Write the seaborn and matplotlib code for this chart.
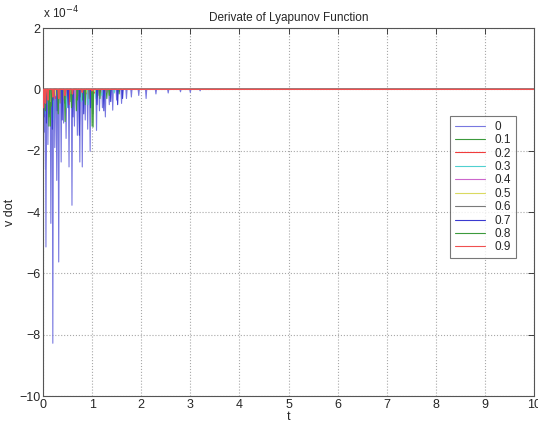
import numpy as np
import pandas as pd
import matplotlib
matplotlib.use("Agg")
import matplotlib.pyplot as plt
import seaborn as sns

# series labels (legend) and MATLAB-like colour order (as rendered, a bit faded)
labels = ["0", "0.1", "0.2", "0.3", "0.4", "0.5", "0.6", "0.7", "0.8", "0.9"]
colors = ["#7878e0", "#3c9a3c", "#f03c3c", "#50d0d0", "#cc66cc",
          "#dada60", "#7a7a7a", "#3a3ad0", "#3c9a3c", "#f05050"]

# spike times (t) and spike depths (v dot, in units of 1e-4)
t0 = [0.02, 0.05, 0.06, 0.10, 0.16, 0.20, 0.24, 0.28, 0.32, 0.37, 0.42, 0.47,
      0.53, 0.59, 0.64, 0.70, 0.75, 0.80, 0.86, 0.91, 0.96, 1.02, 1.09, 1.15,
      1.21, 1.27, 1.35, 1.42, 1.50, 1.60, 1.70, 1.80, 1.95, 2.10, 2.30, 2.55,
      2.80, 3.00, 3.20]
v0 = [-1.4, -2.6, -5.14, -1.8, -4.37, -8.28, -1.9, -2.97, -5.63, -2.37, -1.1,
      -1.6, -2.53, -3.78, -1.2, -1.5, -2.37, -2.53, -1.0, -1.3, -2.02, -0.8,
      -1.34, -0.7, -0.6, -0.9, -0.5, -0.68, -0.35, -0.46, -0.3, -0.25, -0.2,
      -0.3, -0.15, -0.12, -0.08, -0.1, -0.05]
t1 = [0.03, 0.12, 0.15, 0.30, 0.45, 0.55, 0.68, 0.80, 1.02, 1.10, 1.30, 1.55]
v1 = [-0.6, -0.9, -1.2, -0.5, -1.05, -0.4, -0.7, -0.35, -1.23, -0.25, -0.3, -0.15]
t2 = [0.02, 0.06, 0.14, 0.25, 0.40, 0.53, 0.60, 0.72, 0.90, 1.05, 1.25]
v2 = [-0.7, -0.55, -0.4, -0.3, -0.35, -0.5, -0.25, -0.2, -0.15, -0.12, -0.08]
t3 = [0.04, 0.10, 0.20, 0.33, 0.48, 0.62, 0.78, 0.92, 1.08, 1.20, 1.45]
v3 = [-0.8, -0.5, -1.0, -0.45, -0.6, -0.35, -0.4, -0.5, -0.3, -0.2, -0.12]
t4 = [0.03, 0.09, 0.18, 0.27, 0.38, 0.50, 0.66, 0.85, 1.00, 1.18]
v4 = [-0.45, -0.3, -0.55, -0.25, -0.4, -0.2, -0.3, -0.15, -0.2, -0.1]
t5 = [0.05, 0.15, 0.26, 0.40, 0.57, 0.73, 0.88, 1.05]
v5 = [-0.25, -0.4, -0.2, -0.3, -0.15, -0.2, -0.1, -0.08]
t6 = [0.04, 0.11, 0.21, 0.35, 0.46, 0.60, 0.76, 0.94, 1.12, 1.30]
v6 = [-0.5, -0.7, -0.35, -0.45, -0.3, -0.55, -0.25, -0.3, -0.2, -0.1]
t7 = [0.02, 0.07, 0.13, 0.19, 0.29, 0.39, 0.51, 0.61, 0.74, 0.83, 0.97, 1.10,
      1.24, 1.38, 1.52, 1.62]
v7 = [-0.9, -1.1, -0.8, -1.3, -0.7, -1.0, -0.6, -0.9, -1.5, -0.8, -0.6, -0.5,
      -0.7, -0.4, -0.5, -0.3]
t8 = [0.05, 0.12, 0.17, 0.31, 0.44, 0.58, 0.70, 0.86, 1.00, 1.16, 1.35]
v8 = [-0.7, -1.2, -0.55, -0.8, -0.45, -0.6, -0.35, -0.5, -1.2, -0.3, -0.2]
t9 = [0.01, 0.05, 0.10, 0.20, 0.32, 0.45, 0.60, 0.80, 1.00]
v9 = [-0.6, -0.45, -0.35, -0.25, -0.3, -0.2, -0.15, -0.1, -0.05]

spike_t = [t0, t1, t2, t3, t4, t5, t6, t7, t8, t9]
spike_v = [v0, v1, v2, v3, v4, v5, v6, v7, v8, v9]
t_end = 10.0
w = 0.012  # half width of a spike

rows = []
for lab, ts, vs in zip(labels, spike_t, spike_v):
    rows.append((lab, 0.0, 0.0))
    for t, v in zip(ts, vs):
        rows.append((lab, t - w, 0.0))
        rows.append((lab, t, v))
        rows.append((lab, t + w, 0.0))
    rows.append((lab, t_end, 0.0))
df = pd.DataFrame(rows, columns=["k", "t", "v"])

sns.set_style("white")
plt.rcParams["font.family"] = ["Liberation Sans", "DejaVu Sans"]

fig = plt.figure(figsize=(5.38, 4.23), dpi=100)
ax = fig.add_axes([43 / 538, 1 - 396 / 423, (534 - 43) / 538, 368 / 423])

sns.lineplot(data=df, x="t", y="v", hue="k", hue_order=labels,
             palette=colors, estimator=None, sort=False, lw=0.8, ax=ax)
# the last series sits on top along the zero line, as in the original
ax.lines[len(labels) - 1].set_zorder(3)
ax.lines[len(labels) - 1].set_linewidth(1.0)

ax.set_xlim(0, 10)
ax.set_ylim(-10, 2)
ax.set_xticks(range(0, 11))
ax.set_yticks(range(-10, 3, 2))
ax.grid(True, linestyle=":", color="#a8a8a8", linewidth=0.8)
ax.tick_params(direction="in", top=True, right=True, labelsize=9,
               length=4, width=0.6, pad=2)
for s in ax.spines.values():
    s.set_color("#555555")
    s.set_linewidth(0.8)

ax.set_xlabel("t", fontsize=9, labelpad=0)
ax.set_ylabel("v dot", fontsize=9, labelpad=2)
ax.set_title("Derivate of Lyapunov Function", fontsize=8.5, pad=5)
fig.text(43 / 538, 1 - 18 / 423, "x 10$^{-4}$", fontsize=8.5)

leg = ax.legend(loc="upper left", bbox_to_anchor=((450 - 43) / 491, 1 - (116 - 28) / 368),
                fontsize=8.5, frameon=True, fancybox=False, handlelength=2.6,
                labelspacing=0.12, borderpad=0.4, handletextpad=0.8,
                borderaxespad=0)
leg.get_frame().set_edgecolor("#555555")
leg.get_frame().set_linewidth(0.8)
for line in leg.get_lines():
    line.set_linewidth(0.8)

fig.savefig("out.png", dpi=100)
